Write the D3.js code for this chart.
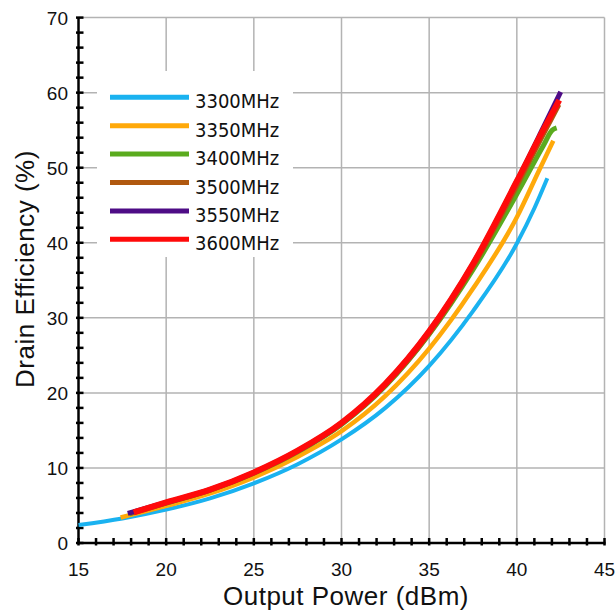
<!DOCTYPE html>
<html>
<head>
<meta charset="utf-8">
<script src="https://cdn.jsdelivr.net/npm/d3@7"></script>
<style>
  html, body { margin: 0; padding: 0; background: #fff; }
  svg { display: block; }
</style>
</head>
<body>
<svg id="chart" width="616" height="614"></svg>
<script>
// ---------------- data ----------------
const seriesNames = ["3300MHz", "3350MHz", "3400MHz", "3500MHz", "3550MHz", "3600MHz"];
const seriesColors = ["#1ab2f0", "#ffa90a", "#5aab1e", "#b0580f", "#4e0c86", "#ff0a0a"];

const power3300 = [15, 17.5, 20, 22.5, 25, 27.5, 30, 32.5, 35, 37.5, 40, 41.0, 41.74];
const eff3300   = [2.4, 3.27, 4.45, 5.95, 7.95, 10.5, 13.8, 18.0, 23.6, 30.9, 39.9, 44.6, 48.6];

const power3350 = [17.4, 20, 22.5, 25, 27.5, 30, 32.5, 35, 37.5, 40, 41.26, 42.08];
const eff3350   = [3.4, 4.95, 6.6, 8.75, 11.5, 14.9, 19.6, 25.9, 33.9, 43.4, 49.6, 53.6];

const power3400 = [17.9, 20, 22.5, 25, 27.5, 30, 32.5, 35, 37.5, 40, 41.5, 42.02, 42.27];
const eff3400   = [3.9, 5.3, 7.05, 9.3, 12.15, 15.8, 20.9, 27.8, 36.4, 46.5, 52.9, 55.0, 55.3];

const power3500 = [17.95, 20, 22.5, 25, 27.5, 30, 32.5, 35, 37.5, 40, 41.5, 42.4];
const eff3500   = [3.95, 5.35, 7.05, 9.35, 12.2, 15.9, 21.0, 27.9, 36.8, 47.6, 54.4, 58.4];

const power3550 = [17.81, 20, 22.5, 25, 27.5, 30, 32.5, 35, 37.5, 40, 41.5, 42.5];
const eff3550   = [3.94, 5.4, 7.1, 9.4, 12.3, 16.0, 21.2, 28.2, 37.2, 48.2, 55.3, 60.1];

const power3600 = [18.15, 20, 22.5, 25, 27.5, 30, 32.5, 35, 37.5, 40, 41.5, 42.42];
const eff3600   = [4.07, 5.4, 7.1, 9.4, 12.3, 16.0, 21.2, 28.2, 37.2, 48.2, 55.0, 59.0];

const xTicks = [15, 20, 25, 30, 35, 40, 45];
const yTicks = [0, 10, 20, 30, 40, 50, 60, 70];
const xLabel = "Output Power (dBm)";
const yLabel = "Drain Efficiency (%)";

// ---------------- build ----------------
const powers = [power3300, power3350, power3400, power3500, power3550, power3600];
const effs = [eff3300, eff3350, eff3400, eff3500, eff3550, eff3600];
const series = seriesNames.map((name, i) => ({
  name, color: seriesColors[i],
  points: powers[i].map((p, j) => [p, effs[i][j]])
}));
const widths = [4, 4.5, 5, 5, 5, 6];

const svg = d3.select("#chart");
const x = d3.scaleLinear().domain([15, 45]).range([78.5, 604.5]);
const y = d3.scaleLinear().domain([0, 70]).range([543, 17.6]);

// grid
const grid = svg.append("g").attr("stroke", "#b3b3b3").attr("stroke-width", 1.5);
grid.selectAll("line.v").data(xTicks.slice(1)).join("line")
  .attr("x1", d => x(d)).attr("x2", d => x(d))
  .attr("y1", y(0)).attr("y2", y(70));
grid.selectAll("line.h").data(yTicks.slice(1)).join("line")
  .attr("x1", x(15)).attr("x2", x(45))
  .attr("y1", d => y(d)).attr("y2", d => y(d));

// legend background
svg.append("rect").attr("x", 97).attr("y", 71).attr("width", 196).attr("height", 186).attr("fill", "#fff");

// axes
const ax = svg.append("g").attr("stroke", "#000").attr("stroke-width", 2.5);
ax.append("line").attr("x1", x(15)).attr("x2", x(15)).attr("y1", y(0) + 1).attr("y2", y(70));
ax.append("line").attr("x1", x(15) - 1).attr("x2", x(45) + 1).attr("y1", y(0)).attr("y2", y(0));
ax.selectAll("line.yt").data(d3.range(0, 71, 2)).join("line")
  .attr("x1", x(15) - 2.5).attr("x2", x(15) + 5)
  .attr("y1", d => y(d)).attr("y2", d => y(d));
ax.selectAll("line.xt").data(d3.range(15, 46, 1)).join("line")
  .attr("x1", d => x(d)).attr("x2", d => x(d))
  .attr("y1", y(0) - 5).attr("y2", y(0) + 2.5);

// tick labels
const tickFont = "'Liberation Sans', Arial, sans-serif";
svg.append("g").selectAll("text").data(xTicks).join("text")
  .attr("x", d => x(d)).attr("y", 576)
  .attr("text-anchor", "middle")
  .attr("font-family", tickFont).attr("font-size", 19).attr("fill", "#111")
  .text(d => d);
svg.append("g").selectAll("text").data(yTicks).join("text")
  .attr("x", 68).attr("y", d => y(d) + 7)
  .attr("text-anchor", "end")
  .attr("font-family", tickFont).attr("font-size", 19).attr("fill", "#111")
  .text(d => d);

// axis titles
svg.append("text").attr("x", 346).attr("y", 605)
  .attr("text-anchor", "middle").attr("font-family", tickFont)
  .attr("font-size", 26).attr("letter-spacing", 0.5).attr("fill", "#111")
  .text(xLabel);
svg.append("text").attr("transform", "translate(34,269) rotate(-90)")
  .attr("text-anchor", "middle").attr("font-family", tickFont)
  .attr("font-size", 26).attr("letter-spacing", 0.5).attr("fill", "#111")
  .text(yLabel);

// curves
const line = d3.line().x(d => x(d[0])).y(d => y(d[1])).curve(d3.curveMonotoneX);
svg.append("g").selectAll("path").data(series).join("path")
  .attr("d", d => line(d.points))
  .attr("fill", "none")
  .attr("stroke", d => d.color)
  .attr("stroke-width", (d, i) => widths[i])
  .attr("stroke-linecap", "butt")
  .attr("stroke-linejoin", "round");

// legend
const lg = svg.append("g");
const rowY = i => 97.3 + i * 28.4;
lg.selectAll("line").data(series).join("line")
  .attr("x1", 110).attr("x2", 189)
  .attr("y1", (d, i) => rowY(i)).attr("y2", (d, i) => rowY(i))
  .attr("stroke", d => d.color).attr("stroke-width", 5);
lg.selectAll("text").data(series).join("text")
  .attr("x", 195).attr("y", (d, i) => rowY(i) + 11)
  .attr("font-family", "'DejaVu Sans Condensed', 'DejaVu Sans', sans-serif")
  .attr("font-stretch", "condensed")
  .attr("font-size", 20).attr("fill", "#111")
  .text(d => d.name);
</script>
</body>
</html>
